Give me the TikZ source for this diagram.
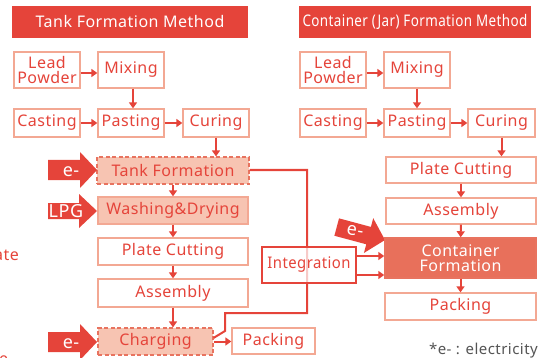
\documentclass[tikz,border=0pt]{standalone}
\usepackage{fontspec}
\setmainfont{Noto Sans}[LetterSpace=3]
\usetikzlibrary{arrows.meta}
\definecolor{tred}{HTML}{E5443A}
\definecolor{bord}{HTML}{F3A893}
\definecolor{dbord}{HTML}{E8735F}
\definecolor{salm}{HTML}{F7C4B2}
\definecolor{cfill}{HTML}{E8705B}
\definecolor{gtext}{HTML}{555555}
\begin{document}
\begin{tikzpicture}[x=1pt,y=-1pt,
  every node/.style={inner sep=0pt, font=\fontsize{16}{15}\selectfont},
  wbox/.style={draw=bord, line width=1.3pt, fill=white, text=tred, align=center},
  dbox/.style={draw=dbord, line width=1.2pt, dashed, dash pattern=on 4pt off 2.5pt, fill=salm, text=tred},
  sbox/.style={draw=bord, line width=1.3pt, fill=salm, text=tred},
  cbox/.style={draw=dbord, line width=1.5pt, fill=cfill, text=white, align=center},
  ibox/.style={draw=tred, line width=2pt, fill=white, fill opacity=0.72, text opacity=1, text=tred},
  tbar/.style={fill=tred, text=white},
  arr/.style={draw=tred, line width=2pt, -{Triangle[length=6pt,width=8pt]}},
  conn/.style={draw=tred, line width=2pt},
  biglab/.style={text=white, font=\fontsize{18}{15}\selectfont\bfseries}
]
\useasboundingbox (0,0) rectangle (540,358);
% titles
\node[tbar, minimum width=236pt, minimum height=32pt] (t1) at (130,22) {Tank Formation Method};
\node[tbar, minimum width=232pt, minimum height=32pt] (t2) at (415,22) {\scalebox{0.84}[1]{Container (Jar) Formation Method}};
% left column
\node[wbox, minimum width=66pt, minimum height=36pt] (lp1) at (47,70) {Lead\\Powder};
\node[wbox, minimum width=66pt, minimum height=36pt] (mx1) at (131,70) {Mixing};
\node[wbox, minimum width=66pt, minimum height=28pt] (ca1) at (47,123) {Casting};
\node[wbox, minimum width=66pt, minimum height=28pt] (pa1) at (131,123) {Pasting};
\node[wbox, minimum width=66pt, minimum height=28pt] (cu1) at (216,123) {Curing};
\node[dbox, minimum width=152pt, minimum height=27pt] (tf) at (173,170.5) {Tank Formation};
\node[sbox, minimum width=150pt, minimum height=27pt] (wd) at (173,210.5) {Washing\&Drying};
\node[wbox, minimum width=150pt, minimum height=27pt] (pc1) at (173,251.5) {Plate Cutting};
\node[wbox, minimum width=150pt, minimum height=28pt] (as1) at (173,293) {Assembly};
\node[dbox, minimum width=115pt, minimum height=27pt] (ch) at (155.5,341.5) {Charging};
\node[wbox, minimum width=83pt, minimum height=26pt] (pk1) at (273.5,341) {Packing};
% left arrows
\draw[arr] ([yshift=-3pt]lp1.east) -- ([yshift=-3pt]mx1.west);
\draw[arr] ([xshift=2pt]mx1.south) -- ([xshift=2pt]mx1.south |- pa1.north);
\draw[arr] (ca1) -- (pa1);
\draw[arr] (pa1) -- (cu1);
\draw[arr] (cu1.south) -- (cu1.south |- tf.north);
\draw[arr] (tf) -- (wd);
\draw[arr] (wd) -- (pc1);
\draw[arr] (pc1) -- (as1);
\draw[arr] (as1.south) -- (as1.south |- ch.north);
\draw[arr] (ch.east) -- (ch.east -| pk1.west);
% big arrows
\fill[tred] (48,160) -- (80,160) -- (80,152) -- (97,170) -- (80,188) -- (80,180) -- (48,180) -- cycle;
\node[biglab] (e1) at (71,172) {e-};
\fill[tred] (48,203) -- (79,203) -- (79,194) -- (97,211) -- (79,228) -- (79,219) -- (48,219) -- cycle;
\node[biglab] (lpg) at (66,211) {LPG};
\fill[tred] (48,332) -- (80,332) -- (80,324) -- (97,342) -- (80,360) -- (80,352) -- (48,352) -- cycle;
\node[biglab] (e2) at (71,344) {e-};
% integration loop
\coordinate (c1) at (225,331);
\coordinate (c2) at (225,313);
\coordinate (c3) at (307,313);
\coordinate (c4) at (307,170);
\draw[conn] ([yshift=-10.5pt]ch.north east) -- (c1) -- (c2) -- (c3) -- (c4) -- (c4 -| tf.east);
\node[ibox, minimum width=94pt, minimum height=36pt] (ig) at (309,265) {\scalebox{0.93}[1]{Integration}};
% right column
\node[wbox, minimum width=66pt, minimum height=36pt] (lp2) at (333,70) {Lead\\Powder};
\node[wbox, minimum width=66pt, minimum height=36pt] (mx2) at (417,70) {Mixing};
\node[wbox, minimum width=66pt, minimum height=28pt] (ca2) at (333,123) {Casting};
\node[wbox, minimum width=66pt, minimum height=28pt] (pa2) at (417,123) {Pasting};
\node[wbox, minimum width=67pt, minimum height=28pt] (cu2) at (501.5,123) {Curing};
\node[wbox, minimum width=150pt, minimum height=26pt] (pc2) at (461,170) {Plate Cutting};
\node[wbox, minimum width=150pt, minimum height=26pt] (as2) at (461,211) {Assembly};
% tilted e- arrow
\begin{scope}[shift={(385,240)}, rotate=-15]
\fill[tred] (-50,-9) -- (-17,-9) -- (-17,-18) -- (0,0) -- (-17,18) -- (-17,9) -- (-50,9) -- cycle;
\end{scope}
\node[biglab, rotate=-8] (e3) at (355,231) {e-};
\node[cbox, minimum width=151pt, minimum height=40pt] (cf) at (460.5,258) {Container\\Formation};
\node[wbox, minimum width=151pt, minimum height=27pt] (pk2) at (460.5,306.5) {Packing};
% right arrows
\draw[arr] ([yshift=-3pt]lp2.east) -- ([yshift=-3pt]mx2.west);
\draw[arr] (mx2) -- (pa2);
\draw[arr] (ca2) -- (pa2);
\draw[arr] (pa2) -- (cu2);
\draw[arr] (cu2.south) -- (cu2.south |- pc2.north);
\draw[arr] (pc2) -- (as2);
\draw[arr] (as2) -- (cf);
\draw[arr] (cf) -- (pk2);
\draw[arr] ([yshift=9pt]ig.east) -- ([yshift=9pt]ig.east -| cf.west);
\draw[arr] ([yshift=-10pt]ig.east) -- ([yshift=-10pt]ig.east -| cf.west);
% notes
\node[anchor=base east, text=gtext, font=\fontsize{15}{15}\selectfont] (note) at (538,354) {*e- : electricity};
\node[anchor=base east, text=tred] (frag1) at (19,260) {ate};
\node[anchor=base west, text=tred] (frag2) at (-1,364) {e};
\end{tikzpicture}
\end{document}
